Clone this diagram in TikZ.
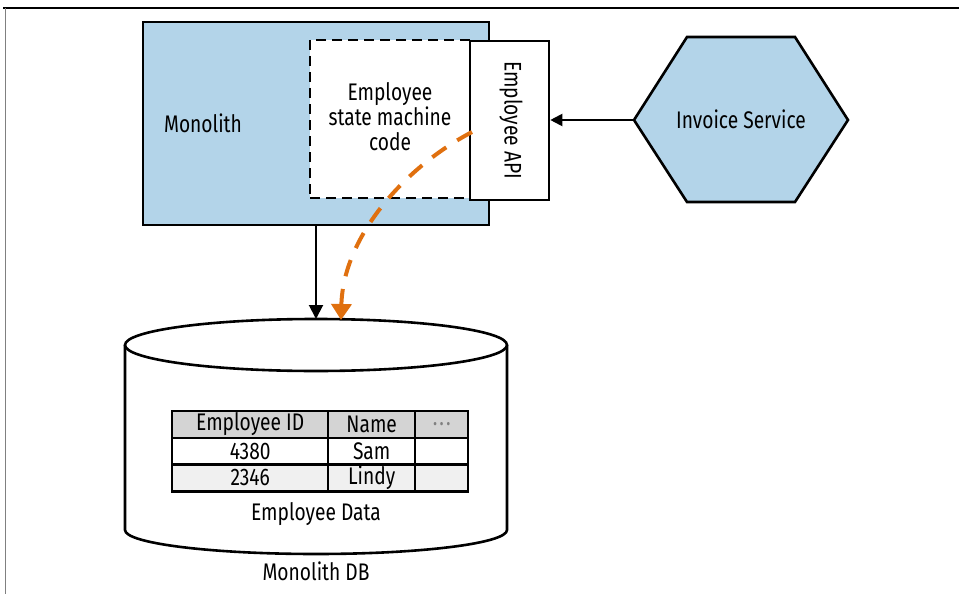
\documentclass[tikz,border=0pt]{standalone}
\usepackage{fontspec}
\setmainfont{Fira Sans}[FakeStretch=0.8, Numbers=Lining]
\usetikzlibrary{arrows.meta}
\definecolor{monoblue}{HTML}{B3D4E9}
\definecolor{arrorange}{HTML}{E0700F}
\definecolor{hdrgray}{HTML}{D4D4D4}
\definecolor{rowgray}{HTML}{F0F0F0}
\tikzset{
  txt/.style={font=\fontsize{24}{25}\selectfont, align=center, inner sep=0pt},
  boxline/.style={line width=2.6pt},
  cell/.style={draw, line width=2.4pt, minimum height=26.7pt, inner sep=0pt, font=\fontsize{24}{25}\selectfont, anchor=north west},
}
\begin{document}
\begin{tikzpicture}[x=1pt,y=-1pt]
\useasboundingbox (0,0) rectangle (959,594);
% frame
\draw[line width=1.5pt] (3,8) -- (959,8);
\draw[line width=0.8pt, gray] (5,8) -- (5,594);
% monolith
\node[boxline, draw, fill=monoblue, minimum width=346pt, minimum height=203pt, inner sep=0pt] (mono) at (316,123.5) {};
\node[txt] (monolbl) at (203,123) {Monolith};
% dashed state machine box
\node[boxline, draw, dashed, dash pattern=on 10pt off 6pt, fill=white, minimum width=161pt, minimum height=158pt, inner sep=0pt] (sm) at (390.5,119) {};
\node[txt] (smlbl) at (390,117) {Employee\\state machine\\code};
% Employee API
\node[boxline, draw, fill=white, minimum width=79pt, minimum height=159pt, inner sep=0pt] (api) at (509.5,120.5) {};
\node[txt, rotate=-90] (apilbl) at (511,120) {Employee API};
% hexagon
\coordinate (hl) at (634,120);
\coordinate (htl) at (687,37);
\coordinate (htr) at (795,37);
\coordinate (hr) at (848,120);
\coordinate (hbr) at (795,202);
\coordinate (hbl) at (687,202);
\draw[boxline, fill=monoblue, line join=miter] (hl) -- (htl) -- (htr) -- (hr) -- (hbr) -- (hbl) -- cycle;
\node[txt] (inv) at (741,119) {Invoice Service};
% arrow invoice -> api
\draw[line width=2pt, -{Triangle[length=12pt,width=12pt]}] (hl) -- (api.east |- hl);
% cylinder
\coordinate (dbtop) at (316,319);
\draw[boxline, fill=white] (125,345) -- (125,530) arc[start angle=180, end angle=360, x radius=191pt, y radius=24pt] -- (507,345);
\draw[boxline, fill=white] (316,345) ellipse [x radius=191pt, y radius=26pt];
\node[txt] (datalbl) at (316,514) {Employee Data};
\node[txt] (dblbl) at (316,571) {Monolith DB};
% table
\node[cell, fill=hdrgray, minimum width=156pt] (h1) at (171,410) {Employee ID};
\node[cell, fill=hdrgray, minimum width=87pt] (h2) at (327,410) {Name};
\node[cell, fill=hdrgray, minimum width=53pt, text=gray] (h3) at (414,410) {.\kern2pt.\kern2pt.};
\node[cell, fill=white, minimum width=156pt] (a1) at (171,436.7) {4380};
\node[cell, fill=white, minimum width=87pt] (a2) at (327,436.7) {Sam};
\node[cell, fill=white, minimum width=53pt] (a3) at (414,436.7) {};
\node[cell, fill=rowgray, minimum width=156pt] (b1) at (171,463.4) {2346};
\node[cell, fill=rowgray, minimum width=87pt] (b2) at (327,463.4) {Lindy};
\node[cell, fill=rowgray, minimum width=53pt] (b3) at (414,463.4) {};
% monolith -> db
\coordinate (mbot) at (316,225);
\draw[line width=2pt, -{Triangle[length=14pt,width=14pt]}] (mbot) -- (dbtop);
% orange dashed
\coordinate (os) at (472,132);
\coordinate (oe) at (341,320);
\draw[arrorange, line width=4pt, dash pattern=on 17pt off 13pt, -{Triangle[length=16pt,width=20pt]}] (os) .. controls (400,170) and (343,240) .. (oe);
\end{tikzpicture}
\end{document}
